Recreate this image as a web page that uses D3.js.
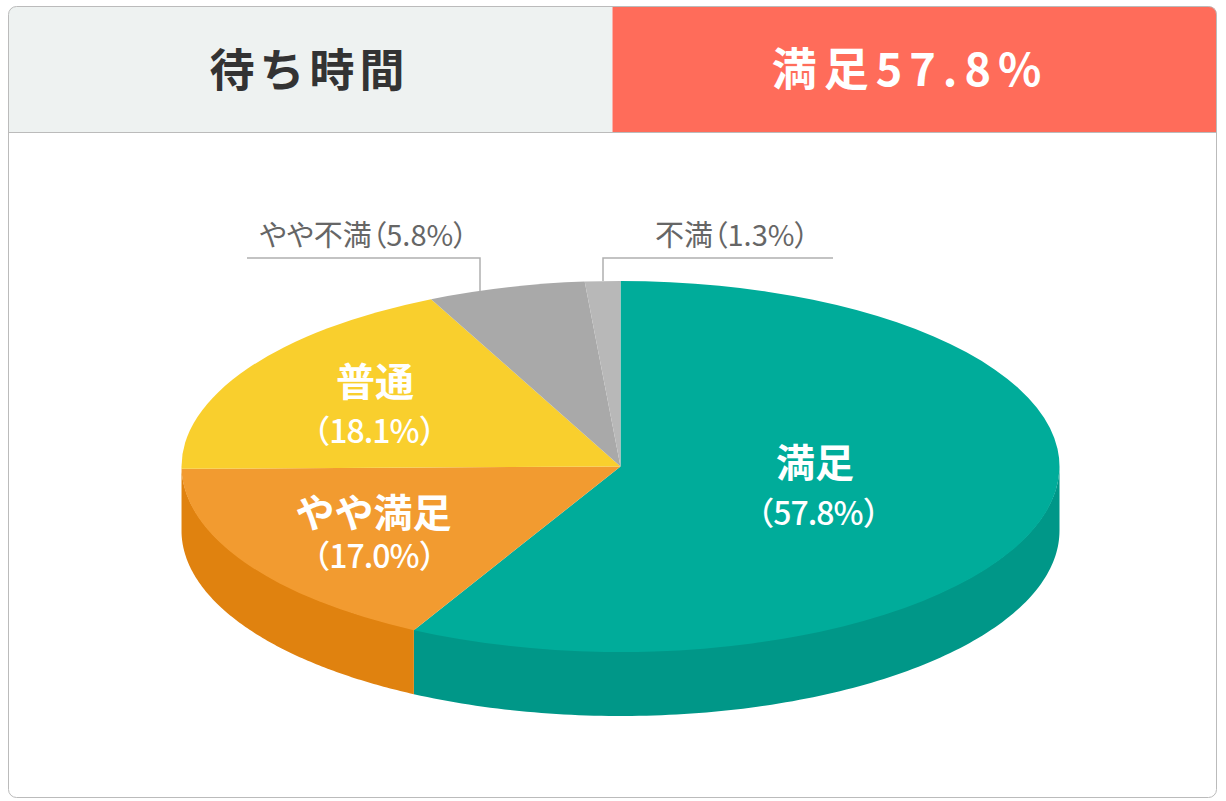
<!DOCTYPE html>
<html><head><meta charset="utf-8">
<style>
html, body { margin: 0; padding: 0; background: #fff; }
svg { display: block; }
text { font-family: "Noto Sans CJK JP", "Noto Sans", sans-serif; }
.palt { font-feature-settings: "palt"; }
</style>
</head>
<body>
<svg id="chart" width="1226" height="801"></svg>
<script src="https://d3js.org/d3.v7.min.js"></script>
<script>
const categories = ["満足", "やや満足", "普通", "やや不満", "不満"];
const values = [57.8, 17.0, 18.1, 5.8, 1.3];
const topColors = ["#00ac9a", "#f29b30", "#f9cf2d", "#a9a9a9", "#b8b8b8"];
const sideColors = ["#009788", "#e0820f", "#f9cf2d", "#a9a9a9", "#b8b8b8"];
const headerTitle = "待ち時間";
const headerResult = "満足57.8%";

const svg = d3.select("#chart");
const cx = 620.5, cy = 466.5, rx = 439, ry = 185.5, depth = 64;

// frame with header
const fL = 8.5, fR = 1216.5, fT = 6.5, fB = 797.5, split = 612.5, headBottom = 132.5, r = 8;
svg.append("path")
  .attr("d", `M${fL},${headBottom}V${fT + r}Q${fL},${fT} ${fL + r},${fT}H${split}V${headBottom}Z`)
  .attr("fill", "#eef2f1");
svg.append("path")
  .attr("d", `M${split},${fT}H${fR - r}Q${fR},${fT} ${fR},${fT + r}V${headBottom}H${split}Z`)
  .attr("fill", "#ff6c5a");
svg.append("rect")
  .attr("x", fL).attr("y", fT)
  .attr("width", fR - fL).attr("height", fB - fT)
  .attr("rx", r)
  .attr("fill", "none").attr("stroke", "#bbb");
svg.append("line")
  .attr("x1", fL).attr("x2", fR)
  .attr("y1", headBottom).attr("y2", headBottom)
  .attr("stroke", "#bbb");

svg.append("text")
  .attr("x", 309.5).attr("y", 87)
  .attr("text-anchor", "middle")
  .attr("font-size", 45).attr("font-weight", 700)
  .attr("letter-spacing", 5)
  .attr("fill", "#333")
  .text(headerTitle);
svg.append("text")
  .attr("x", 910).attr("y", 86)
  .attr("text-anchor", "middle")
  .attr("font-size", 45).attr("font-weight", 700)
  .attr("letter-spacing", 7)
  .attr("fill", "#fff")
  .text(headerResult);

// pie
const pie = d3.pie().sort(null).value(d => d)(values);
const arc = d3.arc().innerRadius(0).outerRadius(rx);
const xEll = d3.scaleLinear().domain([-1, 1]).range([cx - rx, cx + rx]);
const yEll = d3.scaleLinear().domain([-1, 1]).range([cy - ry, cy + ry]);

// side wall, only the front half of the ellipse shows
// starts 1px up under the top face so no seam shows
const wall = d3.area()
  .x(t => xEll(Math.sin(t)))
  .y0(t => yEll(-Math.cos(t)) - 1)
  .y1(t => yEll(-Math.cos(t)) + depth);
pie.forEach((d, i) => {
  const a0 = Math.max(d.startAngle, Math.PI / 2);
  const a1 = Math.min(d.endAngle, Math.PI * 1.5);
  if (a1 <= a0) return;
  const n = 120;
  svg.append("path")
    .attr("d", wall(d3.range(n + 1).map(k => a0 + (a1 - a0) * k / n)))
    .attr("fill", sideColors[i]);
});

const topG = svg.append("g")
  .attr("transform", `translate(${cx},${cy}) scale(1,${ry / rx})`);
topG.selectAll("path")
  .data(pie)
  .join("path")
  .attr("d", arc)
  .attr("fill", (d, i) => topColors[i]);

// labels on the slices
const inside = [
  { i: 0, x: 815, px: 818, y1: 477, y2: 525 },
  { i: 1, x: 373.5, px: 374, y1: 527, y2: 568 },
  { i: 2, x: 375, px: 374, y1: 396, y2: 443 }
];
inside.forEach(l => {
  svg.append("text")
    .attr("x", l.x).attr("y", l.y1)
    .attr("text-anchor", "middle")
    .attr("font-size", 39).attr("font-weight", 700)
    .attr("fill", "#fff")
    .text(categories[l.i]);
  svg.append("text")
    .attr("x", l.px).attr("y", l.y2)
    .attr("text-anchor", "middle")
    .attr("font-size", 32).attr("font-weight", 500)
    .attr("letter-spacing", -1)
    .attr("fill", "#fff")
    .text(`（${values[l.i].toFixed(1)}%）`);
});

// outside labels with leader lines
const outside = [
  { i: 3, x: 363.5, y: 246, path: "M247,258H480V291" },
  { i: 4, x: 732, y: 246, path: "M833,258H603V281" }
];
outside.forEach(l => {
  svg.append("path")
    .attr("d", l.path)
    .attr("fill", "none")
    .attr("stroke", "#b0b0b0")
    .attr("stroke-width", 1.5);
  svg.append("text")
    .attr("class", "palt")
    .attr("x", l.x).attr("y", l.y)
    .attr("text-anchor", "middle")
    .attr("font-size", 29)
    .attr("fill", "#666")
    .text(`${categories[l.i]}（${values[l.i].toFixed(1)}%）`);
});
</script>
</body>
</html>
